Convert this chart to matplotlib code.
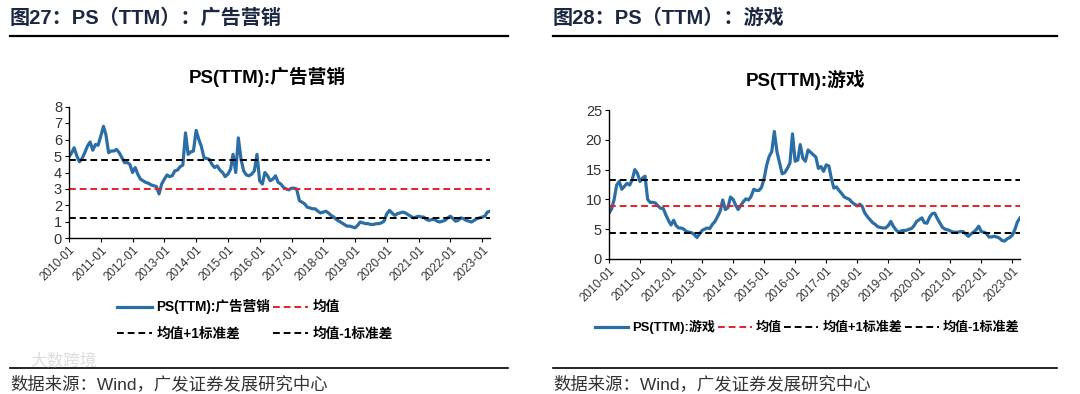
import numpy as np
import pandas as pd
import matplotlib
matplotlib.use("Agg")
import matplotlib.pyplot as plt
import matplotlib.dates as mdates

plt.rcParams['font.family'] = ['Liberation Sans', 'Noto Sans CJK SC', 'DejaVu Sans']
plt.rcParams['axes.unicode_minus'] = False

## data (monthly, 2010-01 .. 2023-04)
dates = pd.date_range("2010-01-01", periods=160, freq="MS")

ad_ps = [
    4.95, 5.2, 5.5, 5.0, 4.65, 4.85, 5.2, 5.6, 5.85, 5.35, 5.7, 5.65,
    6.2, 6.8, 6.3, 5.2, 5.3, 5.3, 5.4, 5.2, 4.9, 4.6, 4.6, 4.5,
    4.0, 4.3, 3.9, 3.6, 3.5, 3.4, 3.35, 3.25, 3.2, 3.15, 2.7, 3.3,
    3.6, 3.85, 3.75, 3.8, 4.1, 4.15, 4.35, 4.45, 6.4, 5.1, 5.25, 5.3,
    6.55, 6.0, 5.6, 4.9, 4.85, 4.8, 4.5, 4.3, 4.4, 4.15, 4.0, 3.75,
    3.9, 4.2, 5.1, 4.0, 6.1, 4.8, 4.1, 3.85, 3.8, 3.9, 4.1, 5.1,
    3.5, 3.3, 4.0, 3.8, 3.5, 3.6, 3.8, 3.4, 3.3, 3.1, 3.0, 2.95,
    3.05, 3.05, 3.0, 2.3, 2.2, 2.1, 1.9, 1.85, 1.8, 1.8, 1.65, 1.55,
    1.6, 1.65, 1.55, 1.4, 1.3, 1.15, 1.05, 0.95, 0.85, 0.75, 0.75, 0.7,
    0.65, 0.8, 1.0, 0.95, 0.9, 0.9, 0.85, 0.85, 0.9, 0.9, 0.95, 1.05,
    1.5, 1.7, 1.55, 1.4, 1.5, 1.55, 1.6, 1.55, 1.45, 1.35, 1.25, 1.3,
    1.35, 1.3, 1.3, 1.15, 1.1, 1.15, 1.15, 1.05, 1.0, 1.05, 1.1, 1.25,
    1.35, 1.2, 1.05, 1.1, 1.25, 1.2, 1.1, 1.05, 1.0, 1.1, 1.2, 1.25,
    1.3, 1.35, 1.6, 1.65,
]
ad_mean = 2.99
ad_upper = 4.74
ad_lower = 1.24

game_ps = [
    7.7, 8.4, 9.9, 12.4, 13.0, 11.7, 12.2, 12.7, 12.4, 13.3, 15.0, 14.4,
    13.0, 13.6, 13.9, 10.0, 9.5, 9.5, 9.4, 8.9, 8.5, 8.5, 7.4, 6.5,
    5.7, 6.5, 5.6, 5.2, 5.2, 5.0, 4.6, 4.5, 4.4, 4.1, 3.6, 4.2,
    4.8, 5.0, 5.2, 5.1, 5.8, 6.3, 7.1, 8.0, 9.9, 8.3, 8.6, 10.4,
    10.0, 9.0, 8.3, 9.0, 9.6, 10.1, 9.9, 10.5, 11.7, 11.5, 11.5, 12.0,
    13.5, 15.8, 17.2, 18.0, 21.4, 18.0, 16.2, 14.3, 14.5, 15.2, 16.1, 21.0,
    16.4, 16.6, 19.2, 16.9, 16.4, 18.3, 17.9, 17.5, 17.1, 15.2, 15.5, 14.7,
    15.8, 15.6, 13.6, 11.9, 12.1, 11.5, 11.0, 10.4, 10.2, 10.0, 9.5, 9.2,
    8.9, 9.2, 8.8, 7.7, 7.1, 6.6, 6.1, 5.8, 5.4, 5.3, 5.2, 5.2,
    5.6, 6.3, 5.5, 4.9, 4.5, 4.7, 4.8, 4.8, 5.0, 5.1, 5.6, 6.3,
    6.6, 6.9, 6.1, 6.0, 7.0, 7.6, 7.7, 6.8, 6.0, 5.3, 5.0, 4.9,
    4.7, 4.5, 4.5, 4.5, 4.6, 4.6, 4.2, 3.8, 4.2, 4.5, 4.9, 5.5,
    4.6, 4.5, 4.3, 3.7, 3.7, 3.8, 3.7, 3.5, 3.1, 3.0, 3.4, 3.6,
    4.0, 5.0, 6.2, 6.9,
]
game_mean = 8.85
game_upper = 13.3
game_lower = 4.35

W, H = 1080, 394
fig = plt.figure(figsize=(W / 100, H / 100), dpi=100)

line_color = '#2b6ea6'
title_color = '#1c2841'
text_color = '#333333'
mixed = ['Liberation Sans', 'Noto Sans CJK SC']

def px(x0, y0, x1, y1):
    return [x0 / W, 1 - y1 / H, (x1 - x0) / W, (y1 - y0) / H]

def header(x0, x1, text):
    fig.text(x0 / W, 1 - 18 / H, text, fontsize=14.5, fontweight='bold',
             color=title_color, va='center', ha='left', family=mixed)
    fig.add_artist(plt.Line2D([x0 / W, x1 / W], [1 - 36 / H, 1 - 36 / H],
                              color='black', lw=1.6))
    fig.add_artist(plt.Line2D([x0 / W, x1 / W], [1 - 368 / H, 1 - 368 / H],
                              color='black', lw=1.2))
    fig.text(x0 / W, 1 - 384 / H, "数据来源：Wind，广发证券发展研究中心",
             fontsize=12.5, color=text_color, va='center', ha='left', family=mixed)

def panel(rect, values, mean, upper, lower, ymax, ystep, name, title_xy):
    ax = fig.add_axes(rect)
    l_main, = ax.plot(dates, values, color=line_color, lw=2.3,
                      label=f"PS(TTM):{name}")
    l_mean = ax.axhline(mean, color='#e8202a', lw=1.4, ls=(0, (3.5, 2)),
                        label='均值')
    l_up = ax.axhline(upper, color='black', lw=1.4, ls=(0, (3.5, 2)),
                      label='均值+1标准差')
    l_lo = ax.axhline(lower, color='black', lw=1.4, ls=(0, (3.5, 2)),
                      label='均值-1标准差')
    ax.set_xlim(dates[0], dates[-1])
    ax.set_ylim(0, ymax)
    ax.set_yticks(np.arange(0, ymax + 0.1, ystep))
    ax.xaxis.set_major_locator(mdates.YearLocator(month=1, day=1))
    ax.xaxis.set_major_formatter(mdates.DateFormatter('%Y-%m'))
    for s in ['top', 'right']:
        ax.spines[s].set_visible(False)
    for s in ['left', 'bottom']:
        ax.spines[s].set_color('black')
        ax.spines[s].set_linewidth(1.0)
    ax.tick_params(axis='y', labelsize=10.5, colors='black', labelcolor=text_color,
                   length=3, pad=2)
    ax.tick_params(axis='x', labelsize=8.5, colors='black', labelcolor=text_color,
                   length=3, pad=1)
    for lab in ax.get_xticklabels():
        lab.set_rotation(45)
        lab.set_ha('right')
        lab.set_rotation_mode('anchor')
    fig.text(title_xy[0] / W, 1 - title_xy[1] / H, f"PS(TTM):{name}",
             fontsize=13.5, fontweight='bold', color='black', ha='center',
             va='center', family=mixed)
    return ax, [l_main, l_mean, l_up, l_lo]

# left chart
header(10, 508, "图27：PS（TTM）：广告营销")
ax1, h1 = panel(px(69, 106.5, 490, 238.5), ad_ps, ad_mean, ad_upper, ad_lower,
                8, 1, "广告营销", (267, 77))
order1 = [h1[0], h1[2], h1[1], h1[3]]
leg1 = fig.legend(order1, [h.get_label() for h in order1],
                  ncol=2, loc='center left', bbox_to_anchor=(110 / W, 1 - 320 / H),
                  frameon=False, handlelength=2.6, handletextpad=0.3,
                  columnspacing=0.2, labelspacing=0.9, borderpad=0,
                  prop={'family': mixed, 'weight': 'bold', 'size': 9.8})

# right chart
header(553, 1057, "图28：PS（TTM）：游戏")
ax2, h2 = panel(px(609, 110, 1020, 259), game_ps, game_mean, game_upper, game_lower,
                25, 5, "游戏", (806, 80))
leg2 = fig.legend(h2, [h.get_label() for h in h2],
                  ncol=4, loc='center left', bbox_to_anchor=(588 / W, 1 - 327 / H),
                  frameon=False, handlelength=2.6, handletextpad=0.3,
                  columnspacing=0.2, borderpad=0,
                  prop={'family': mixed, 'weight': 'bold', 'size': 9.4})

# faint watermark
fig.text(30 / W, 1 - 362 / H, "大数跨境", fontsize=12, color='#d4d4d4', alpha=0.8,
         ha='left', va='center', family=['Noto Sans CJK SC'])

fig.savefig("out.png", dpi=100, facecolor='white')
